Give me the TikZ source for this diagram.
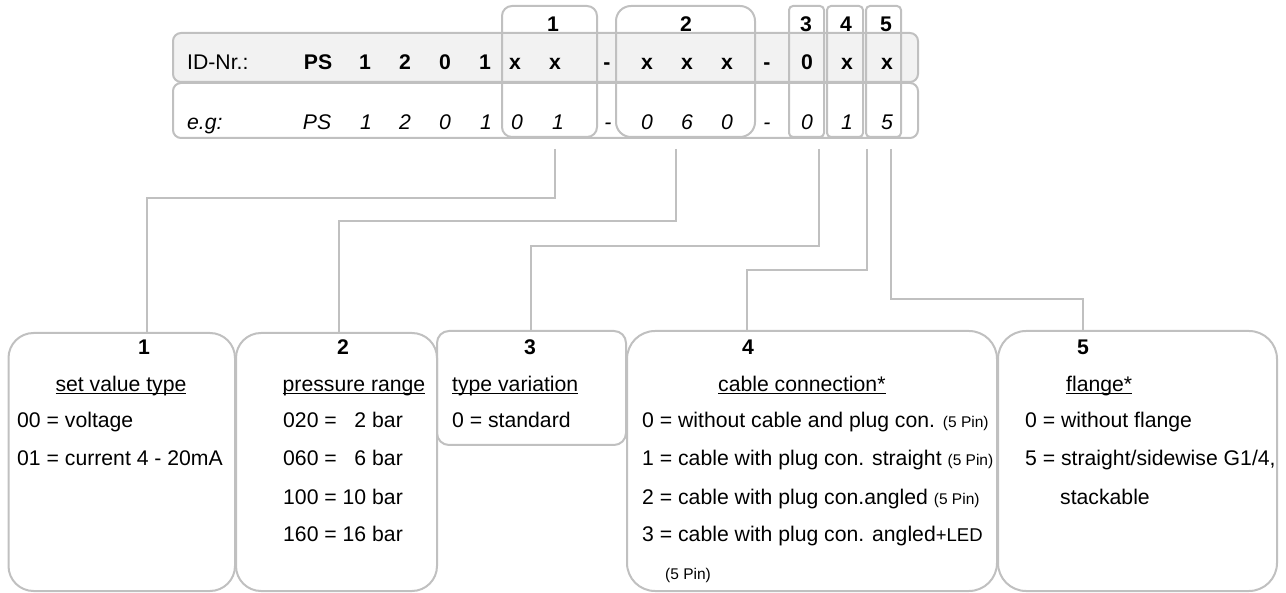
\documentclass[tikz,border=0pt]{standalone}
\usepackage{fontspec}
\setmainfont{Liberation Sans}
\usetikzlibrary{calc}
\definecolor{frame}{HTML}{C0C0C0}
\definecolor{rowgrey}{HTML}{F2F2F2}
\newsavebox\ulbox
\newcommand\ulword[1]{\sbox\ulbox{#1}\rlap{\rule[-2.4pt]{\wd\ulbox}{1.3pt}}\usebox\ulbox}
\newcommand\pinsize{\fontsize{15.5}{18}\selectfont}
\newcommand\ledsize{\fontsize{18.5}{22}\selectfont}
\newcommand\mainsize{\fontsize{21.2}{25}\selectfont}
\begin{document}
\begin{tikzpicture}[x=1pt,y=-1pt,
  panel/.style={draw=frame, line width=2pt, rounded corners=#1, anchor=north west,
    inner sep=0pt, outer sep=0pt},
  conn/.style={draw=frame, line width=1.4pt},
  txt/.style={font=\mainsize, inner sep=0pt, anchor=base west},
  mid/.style={txt, anchor=base},
  bmid/.style={mid, font=\mainsize\bfseries},
  imid/.style={mid, font=\mainsize\itshape}]
\useasboundingbox (0,0) rectangle (1286,593);

% ID number rows
\node[panel=8pt, fill=rowgrey, minimum width=745pt, minimum height=49pt] (row1) at (173,33) {};
\node[panel=8pt, fill=white, minimum width=745pt, minimum height=55pt] (row2) at (173,83) {};

% group frames over the rows
\node[panel=10pt, minimum width=95pt, minimum height=131pt] (g1) at (502,6) {};
\node[panel=15pt, minimum width=139pt, minimum height=131pt] (g2) at (616,6) {};
\node[panel=4pt, minimum width=35pt, minimum height=131pt] (g3) at (789,6) {};
\node[panel=4pt, minimum width=36pt, minimum height=131pt] (g4) at (827,6) {};
\node[panel=4pt, minimum width=35pt, minimum height=131pt] (g5) at (866,6) {};

% group numbers
\foreach \x/\t [count=\i] in {553/1,686/2,806/3,846/4,886/5}
  \node[bmid] (n\i) at (\x,32) {\t};

% header row
\node[txt] (idnr) at (187,70) {ID-Nr.:};
\foreach \x/\t [count=\i] in {318/PS,365/1,405/2,445/0,485/1,515/x,555/x,607/-,647/x,687/x,727/x,767/-,807/0,847/x,887/x}
  \node[bmid] (h\i) at (\x,70) {\t};

% example row
\node[txt, font=\mainsize\itshape] (eg) at (187,130) {e.g:};
\foreach \x/\t [count=\i] in {317/PS,366/1,405/2,445/0,486/1,517/0,558/1,608/-,647/0,687/6,727/0,767/-,807/0,847/1,887/5}
  \node[imid] (e\i) at (\x,130) {\t};

% description panels
\node[panel=25pt, minimum width=226.5pt, minimum height=258pt] (b1) at (8.5,333) {};
\node[panel=25pt, minimum width=201pt, minimum height=258pt] (b2) at (236,333) {};
\node[panel=12pt, minimum width=189pt, minimum height=114pt] (b3) at (437,331) {};
\node[panel=28pt, minimum width=370pt, minimum height=260pt] (b4) at (627,331) {};
\node[panel=28pt, minimum width=279pt, minimum height=260pt] (b5) at (998,331) {};

% connectors from the code groups to their panels
\coordinate (s1) at (555,149); \coordinate (k1) at (147,198);
\coordinate (s2) at (676,149); \coordinate (k2) at (339,221);
\coordinate (s3) at (819,149); \coordinate (k3) at (531,246);
\coordinate (s4) at (867,149); \coordinate (k4) at (747,270);
\coordinate (s5) at (891,149); \coordinate (k5) at (1083,299);
\foreach \i in {1,...,5}
  \draw[conn] (s\i) |- (k\i) -- (k\i |- b\i.north);

% panel 1
\node[bmid] (p1n) at (144,355) {1};
\node[mid] (p1h) at (121,392) {\ulword{set value type}};
\node[txt] (p1a) at (17,428) {00 = voltage};
\node[txt] (p1b) at (17,466) {01 = current 4 - 20mA};

% panel 2
\node[bmid] (p2n) at (343,355) {2};
\node[mid] (p2h) at (354,392) {\ulword{pressure range}};
\node[txt] (p2a) at (283,428) {020 = \phantom{1}2 bar};
\node[txt] (p2b) at (283,466) {060 = \phantom{1}6 bar};
\node[txt] (p2c) at (283,504) {100 = 10 bar};
\node[txt] (p2d) at (283,541) {160 = 16 bar};

% panel 3
\node[bmid] (p3n) at (530,355) {3};
\node[txt] (p3h) at (452,392) {\ulword{type variation}};
\node[txt] (p3a) at (452,428) {0 = standard};

% panel 4
\node[bmid] (p4n) at (748,355) {4};
\node[txt] (p4h) at (718,392) {\ulword{cable connection*}};
\node[txt] (p4a) at (642,428) {0 = without cable and plug con. {\pinsize(5 Pin)}};
\node[txt] (p4b) at (642,466) {1 = cable with plug con. straight {\pinsize(5 Pin)}};
\node[txt] (p4c) at (642,504) {2 = cable with plug con.angled {\pinsize(5 Pin)}};
\node[txt] (p4d) at (642,541) {3 = cable with plug con. angled{\ledsize+LED}};
\node[txt, font=\pinsize] (p4e) at (665,579) {(5 Pin)};

% panel 5
\node[bmid] (p5n) at (1083,355) {5};
\node[txt] (p5h) at (1066,392) {\ulword{flange*}};
\node[txt] (p5a) at (1025,428) {0 = without flange};
\node[txt] (p5b) at (1025,466) {5 = straight/sidewise G1/4,};
\node[txt] (p5c) at (1060,504) {stackable};
\end{tikzpicture}
\end{document}
